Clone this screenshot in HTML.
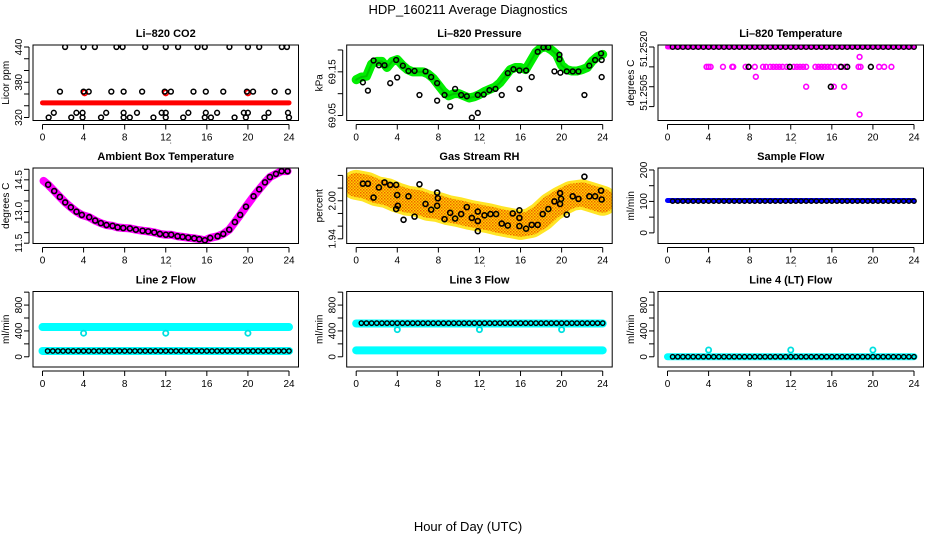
<!DOCTYPE html>
<html><head><meta charset="utf-8"><style>
html,body{margin:0;padding:0;background:#fff;}
svg{display:block;font-family:"Liberation Sans","DejaVu Sans",sans-serif;}
</style></head><body>
<svg id="chart" width="936" height="540" viewBox="0 0 936 540" xmlns="http://www.w3.org/2000/svg">
<defs>
<pattern id="rhpat" width="3" height="3" patternUnits="userSpaceOnUse">
<rect width="3" height="3" fill="#ffd000"/>
<rect width="1.5" height="1.5" fill="#f06000"/>
<rect x="1.5" y="1.5" width="1.5" height="1.5" fill="#f08000"/>
</pattern>
</defs>
<rect x="0" y="0" width="936" height="540" fill="#fff"/>
<text x="468" y="14" font-size="13" text-anchor="middle">HDP_160211  Average Diagnostics</text>
<text x="468" y="531" font-size="13" text-anchor="middle">Hour of Day (UTC)</text>
</svg>
<script>
// ---------- data ----------
var xTicks = [0,4,8,12,16,20,24];
var halfHours = [0,0.5,1,1.5,2,2.5,3,3.5,4,4.5,5,5.5,6,6.5,7,7.5,8,8.5,9,9.5,10,10.5,11,11.5,12,12.5,13,13.5,14,14.5,15,15.5,16,16.5,17,17.5,18,18.5,19,19.5,20,20.5,21,21.5,22,22.5,23,23.5,24];
var blackHours = [0.5,1,1.5,2,2.5,3,3.5,4,4.5,5,5.5,6,6.5,7,7.5,8,8.5,9,9.5,10,10.5,11,11.5,12,12.5,13,13.5,14,14.5,15,15.5,16,16.5,17,17.5,18,18.5,19,19.5,20,20.5,21,21.5,22,22.5,23,23.5,24];

// CO2
var co2Hours = [2.2,4,5.1,7.2,7.8,10,12,13.2,15.1,15.8,18.2,20,21.1,23.3,23.8, 1.7,4,4.5,6.7,7.9,9.7,11.9,12.5,14.7,15.9,17.6,19.9,20.5,22.6,23.9, 1.1,3.3,3.9,6.2,7.9,9.2,11.6,12,14.2,15.9,17,19.6,20,22,23.9, 0.6,2.8,3.9,5.7,7.9,8.5,10.8,12,13.7,15.8,16.4,18.7,19.8,21.6,24];
var co2Values = [440,440,440,440,440,440,440,440,440,440,440,440,440,440,440, 364,364,364,364,364,364,364,364,364,364,364,364,364,364,364, 328,328,328,328,328,328,328,328,328,328,328,328,328,328,328, 320,320,320,320,320,320,320,320,320,320,320,320,320,320,320];
var co2RedBand = [345,345,345,345,345,345,345,345,345,345,345,345,345,345,345,345,345,345,345,345,345,345,345,345,345,345,345,345,345,345,345,345,345,345,345,345,345,345,345,345,345,345,345,345,345,345,345,345,345];
var co2RedHours = [4.1,12,20];
var co2RedValues = [362,362,362];

// Pressure
var presHours = [0.65,1.14,1.69,2.21,2.76,3.31,3.89,3.99,4.54,5.09,5.68,6.16,6.75,7.30,7.88,7.88,8.60,9.15,9.63,10.22,10.77,11.26,11.84,11.84,12.42,12.97,13.56,14.17,14.76,15.31,15.89,15.89,16.54,17.09,17.67,18.22,18.71,19.30,19.79,19.79,19.88,20.50,21.08,21.64,22.22,22.70,23.26,23.84,23.90,23.90];
var presValues = [69.126,69.107,69.176,69.165,69.165,69.124,69.177,69.137,69.164,69.152,69.152,69.097,69.151,69.138,69.124,69.084,69.097,69.071,69.111,69.097,69.094,69.045,69.056,69.097,69.098,69.108,69.111,69.097,69.147,69.156,69.153,69.111,69.153,69.138,69.196,69.206,69.206,69.151,69.179,69.189,69.148,69.151,69.151,69.151,69.097,69.164,69.177,69.192,69.177,69.138];
var presGreen = [69.132,69.138,69.14,69.168,69.174,69.174,69.16,69.174,69.178,69.165,69.155,69.15,69.15,69.15,69.145,69.135,69.12,69.105,69.095,69.1,69.1,69.095,69.09,69.093,69.098,69.105,69.11,69.115,69.125,69.14,69.155,69.16,69.16,69.155,69.175,69.195,69.205,69.207,69.2,69.19,69.165,69.155,69.152,69.152,69.155,69.16,69.175,69.185,69.19];

// Li-820 temperature
var ltMagHours = [3.8,4,4.2,5.4,6.3,6.4,7.6,7.9,8.5,9.3,9.6,10,10.3,10.6,10.9,11.2,11.6,12.3,12.6,12.9,13.2,13.5,14.4,14.7,15,15.3,15.6,15.9,16.3,16.8,17.3,18.6,18.8,20.6,21.1,21.8, 8.6, 13.5,16.2,17.2, 18.7, 18.7];
var ltMagValues = [51.2515,51.2515,51.2515,51.2515,51.2515,51.2515,51.2515,51.2515,51.2515,51.2515,51.2515,51.2515,51.2515,51.2515,51.2515,51.2515,51.2515,51.2515,51.2515,51.2515,51.2515,51.2515,51.2515,51.2515,51.2515,51.2515,51.2515,51.2515,51.2515,51.2515,51.2515,51.2515,51.2515,51.2515,51.2515,51.2515, 51.25125, 51.2510,51.2510,51.2510, 51.25175, 51.2503];
var ltBlackHours = [7.9,11.9,16.9,17.5,19.8,15.9];
var ltBlackValues = [51.2515,51.2515,51.2515,51.2515,51.2515,51.2510];
var ltTopValue = [51.2520];

// Ambient box temperature
var ambHours = [0.55,1.14,1.69,2.21,2.76,3.31,3.83,4.55,5.13,5.68,6.23,6.82,7.31,7.86,8.51,9.09,9.74,10.29,10.88,11.43,12.01,12.53,13.15,13.64,14.19,14.77,15.26,15.81,16.33,17.05,17.60,18.18,18.73,19.25,19.81,20.55,21.10,21.66,22.14,22.73,23.28,23.86];
var ambValues = [14.27,13.97,13.69,13.43,13.20,12.99,12.84,12.73,12.57,12.45,12.36,12.32,12.25,12.22,12.20,12.14,12.09,12.06,12.01,11.94,11.90,11.90,11.83,11.80,11.76,11.73,11.69,11.64,11.75,11.83,11.94,12.14,12.50,12.84,13.23,13.72,14.05,14.38,14.63,14.78,14.91,14.91];
var ambMagHours = [0.1,0.55,1.14,1.69,2.21,2.76,3.31,3.83,4.55,5.13,5.68,6.23,6.82,7.31,7.86,8.51,9.09,9.74,10.29,10.88,11.43,12.01,12.53,13.15,13.64,14.19,14.77,15.26,15.81,16.33,17.05,17.60,18.18,18.73,19.25,19.81,20.55,21.10,21.66,22.14,22.73,23.28,23.86];
var ambMagValues = [14.45,14.27,13.97,13.69,13.43,13.20,12.99,12.84,12.73,12.57,12.45,12.36,12.32,12.25,12.22,12.20,12.14,12.09,12.06,12.01,11.94,11.90,11.90,11.83,11.80,11.76,11.73,11.69,11.64,11.75,11.83,11.94,12.14,12.50,12.84,13.23,13.72,14.05,14.38,14.63,14.78,14.91,14.91];

// Gas stream RH
var rhHours = [0.65,1.14,1.69,2.21,2.76,3.31,3.89,3.99,4.05,3.89,4.61,5.09,5.68,6.16,6.75,7.30,7.88,7.95,7.88,8.60,9.15,9.63,10.22,10.77,11.26,11.84,11.84,11.84,12.49,13.07,13.62,14.17,14.76,15.24,15.89,15.89,15.89,16.54,17.09,17.67,18.16,18.71,19.30,19.85,19.85,19.95,20.50,21.08,21.64,22.22,22.70,23.26,23.84,23.90];
var rhValues = [2.027,2.027,2.005,2.021,2.029,2.025,2.025,2.009,1.992,1.987,1.970,2.007,1.975,2.026,1.995,1.986,2.013,2.004,1.992,1.971,1.981,1.972,1.979,1.990,1.973,1.983,1.968,1.952,1.977,1.979,1.979,1.964,1.961,1.980,1.985,1.973,1.960,1.956,1.962,1.962,1.979,1.987,1.999,2.012,1.995,2.003,1.978,2.007,2.003,2.038,2.007,2.007,2.016,2.002];
var rhBandHours = [0,1,2,3,4,5,6,7,8,9,10,11,12,13,14,15,16,17,18,19,20,21,22,23,24];
var rhBandValues = [2.025,2.022,2.015,2.012,2.005,2.0,1.998,1.992,1.99,1.985,1.982,1.978,1.975,1.972,1.968,1.965,1.962,1.965,1.975,1.99,2.0,2.008,2.01,2.005,2.0];

// Flows
var sampleBlue = [103];
var sampleBlack = [101];
var line2Cyan = [460, 90];
var line2Black = [90];
var line2OutHours = [4,12,20];
var line2OutValues = [365,365,365];
var line3Cyan = [515, 100];
var line3Black = [520];
var line3OutHours = [4,12,20];
var line3OutValues = [420,420,420];
var line4Cyan = [0];
var line4Black = [0];
var line4OutHours = [4,12,20];
var line4OutValues = [105,105,105];

// ---------- drawing ----------
var NS = "http://www.w3.org/2000/svg";
var svg = document.getElementById("chart");
function mk(tag, attrs, parent){
  var e = document.createElementNS(NS, tag);
  for (var k in attrs) e.setAttribute(k, attrs[k]);
  (parent||svg).appendChild(e);
  return e;
}
var colLeft = [33, 346.7, 658];
var rowTop = [45, 168, 291.5];
var boxW = 265.5, boxH = 75.5;

function panel(name, col, row, title, ylab, domain, ticks, labels){
  var g = mk("g", {});
  
  
  var L = colLeft[col], T = rowTop[row], B = T + boxH, R = L + boxW;
  var sx = function(h){ return L + 9.5 + h * (246.5/24); };
  var sy = function(v){ return B - (v - domain[0]) / (domain[1]-domain[0]) * boxH; };
  var t = mk("text", {x:(L+R)/2, y:T-8, "font-size":"11", "font-weight":"bold", "text-anchor":"middle"}, g);
  t.textContent = title;
  
  
  var yl = mk("text", {x:0, y:0, "font-size":"10", "text-anchor":"middle", transform:"translate("+(L-24)+","+((T+B)/2)+") rotate(-90)"}, g);
  yl.textContent = ylab;
  
  
  var xa = mk("g", {}, g);
  
  
  mk("line", {x1:sx(0), x2:sx(24), y1:B+4, y2:B+4, stroke:"#000", "stroke-width":"1"}, xa);
  xTicks.forEach(function(v){
    mk("line", {x1:sx(v), x2:sx(v), y1:B+4, y2:B+9, stroke:"#000", "stroke-width":"1"}, xa);
    var tl = mk("text", {x:sx(v), y:B+20, "font-size":"10", "text-anchor":"middle"}, xa);
    tl.textContent = v;
    
    
  });
  var dot = mk("text", {x:sx(12)+5, y:B+23, "font-size":"8", "text-anchor":"middle"}, xa);
  dot.textContent = ".";
  var ya = mk("g", {}, g);
  
  
  mk("line", {x1:L-4, x2:L-4, y1:sy(ticks[0]), y2:sy(ticks[ticks.length-1]), stroke:"#000", "stroke-width":"1"}, ya);
  ticks.forEach(function(v){
    mk("line", {x1:L-9, x2:L-4, y1:sy(v), y2:sy(v), stroke:"#000", "stroke-width":"1"}, ya);
  });
  labels.forEach(function(lb){
    var yt = mk("text", {x:0, y:0, "font-size":"10", "text-anchor":"middle", transform:"translate("+(L-11)+","+sy(lb[0])+") rotate(-90)"}, ya);
    yt.textContent = lb[1];
    
    
  });
  var clip = "clip-" + name;
  var cp = mk("clipPath", {id:clip}, g);
  mk("rect", {x:L, y:T, width:boxW, height:boxH}, cp);
  var plot = mk("g", {"clip-path":"url(#"+clip+")"}, g);
  
  
  var box = mk("rect", {x:L, y:T, width:boxW, height:boxH, fill:"none", stroke:"#000", "stroke-width":"1"}, g);
  
  
  return {sx:sx, sy:sy, g:plot, box:box};
}
function pts(p, hours, vals, color, r, sw, nm){
  for (var i=0;i<hours.length;i++){
    var c = mk("circle", {cx:p.sx(hours[i]), cy:p.sy(vals[i]), r:r, fill:"none", stroke:color, "stroke-width":sw}, p.g);
    
    
  }
}
function band(p, hours, vals, color, w, nm, op){
  var s = hours.map(function(h,i){ return p.sx(h)+","+p.sy(vals[i]); }).join(" ");
  var l = mk("polyline", {points:s, fill:"none", stroke:color, "stroke-width":w, "stroke-linejoin":"round", "stroke-linecap":"round", opacity:op||1}, p.g);
  
  
}
function constArr(n, v){ var a=[]; for (var i=0;i<n;i++) a.push(v); return a; }

var p = panel("co2", 0, 0, "Li\u2013820 CO2", "Licor ppm", [314.9,443.4], [320,340,360,380,400,420,440], [[320,"320"],[380,"380"],[440,"440"]]);
band(p, halfHours, co2RedBand, "#ff0000", 5, "co2-red-band");
pts(p, co2RedHours, co2RedValues, "#ff0000", 2.6, 1.8, "co2-red-point");
pts(p, co2Hours, co2Values, "#000", 2.4, 1.5, "co2-point");

p = panel("pressure", 1, 0, "Li\u2013820 Pressure", "kPa", [69.0386,69.2114], [69.05,69.10,69.15,69.20], [[69.05,"69.05"],[69.15,"69.15"]]);
band(p, halfHours, presGreen, "#00ee00", 9, "pressure-green-band");
band(p, halfHours, presGreen, "#007700", 2, "pressure-green-texture", 0.35);
pts(p, presHours, presValues, "#000", 2.4, 1.5, "pressure-point");

p = panel("li-temp", 2, 0, "Li\u2013820 Temperature", "degrees C", [51.25015,51.25205], [51.2505,51.2510,51.2515,51.2520], [[51.25195,"51.2520"],[51.25085,"51.2505"]]);
band(p, [0,24], constArr(2, ltTopValue[0]), "#ff00ff", 5, "li-temp-magenta-band");
pts(p, ltMagHours, ltMagValues, "#ff00ff", 2.4, 1.6, "li-temp-magenta-point");
pts(p, blackHours, constArr(blackHours.length, ltTopValue[0]), "#000", 2.3, 1.4, "li-temp-point");
pts(p, ltBlackHours, ltBlackValues, "#000", 2.4, 1.6, "li-temp-point");

p = panel("ambient-temp", 0, 1, "Ambient Box Temperature", "degrees C", [11.486,15.06], [11.5,12,12.5,13,13.5,14,14.5,15], [[11.5,"11.5"],[13,"13.0"],[14.5,"14.5"]]);
band(p, ambMagHours, ambMagValues, "#ff00ff", 8, "ambient-magenta-band");
pts(p, ambHours, ambValues, "#000", 2.5, 1.6, "ambient-point");

p = panel("gas-rh", 1, 1, "Gas Stream RH", "percent", [1.9326,2.0517], [1.94,1.96,1.98,2.00,2.02,2.04], [[1.94,"1.94"],[2.00,"2.00"]]);
band(p, rhBandHours, rhBandValues, "#ffe000", 30, "rh-yellow-band", 0.85);
band(p, rhBandHours, rhBandValues, "url(#rhpat)", 24, "rh-orange-band", 1);
pts(p, rhHours, rhValues, "#000", 2.5, 1.6, "rh-point");

p = panel("sample-flow", 2, 1, "Sample Flow", "ml/min", [-33.8,206.3], [0,50,100,150,200], [[0,"0"],[100,"100"],[200,"200"]]);
band(p, [0,24], constArr(2, sampleBlue[0]), "#0000ff", 5, "sample-blue-band");
pts(p, blackHours, constArr(blackHours.length, sampleBlack[0]), "#000", 2.2, 1.4, "sample-point");

var flowTicks = [0,200,400,600,800,1000], flowLabels = [[0,"0"],[400,"400"],[800,"800"]];
p = panel("line2-flow", 0, 2, "Line 2 Flow", "ml/min", [-158,1010], flowTicks, flowLabels);
band(p, [0,24], constArr(2, line2Cyan[0]), "#00ffff", 8, "line2-cyan-band");
band(p, [0,24], constArr(2, line2Cyan[1]), "#00ffff", 8, "line2-cyan-band");
pts(p, line2OutHours, line2OutValues, "#00e0e0", 2.6, 1.8, "line2-cyan-outlier");
pts(p, blackHours, constArr(blackHours.length, line2Black[0]), "#000", 2.2, 1.4, "line2-point");

p = panel("line3-flow", 1, 2, "Line 3 Flow", "ml/min", [-158,1010], flowTicks, flowLabels);
band(p, [0,24], constArr(2, line3Cyan[0]), "#00ffff", 8, "line3-cyan-band");
band(p, [0,24], constArr(2, line3Cyan[1]), "#00ffff", 8, "line3-cyan-band");
pts(p, line3OutHours, line3OutValues, "#00e0e0", 2.6, 1.8, "line3-cyan-outlier");
pts(p, blackHours, constArr(blackHours.length, line3Black[0]), "#000", 2.2, 1.4, "line3-point");

p = panel("line4-flow", 2, 2, "Line 4 (LT) Flow", "ml/min", [-158,1010], flowTicks, flowLabels);
band(p, [0,24], constArr(2, line4Cyan[0]), "#00ffff", 7, "line4-cyan-band");
pts(p, line4OutHours, line4OutValues, "#00e0e0", 2.6, 1.8, "line4-cyan-outlier");
pts(p, blackHours, constArr(blackHours.length, line4Black[0]), "#000", 2.2, 1.4, "line4-point");
</script>
</body></html>
